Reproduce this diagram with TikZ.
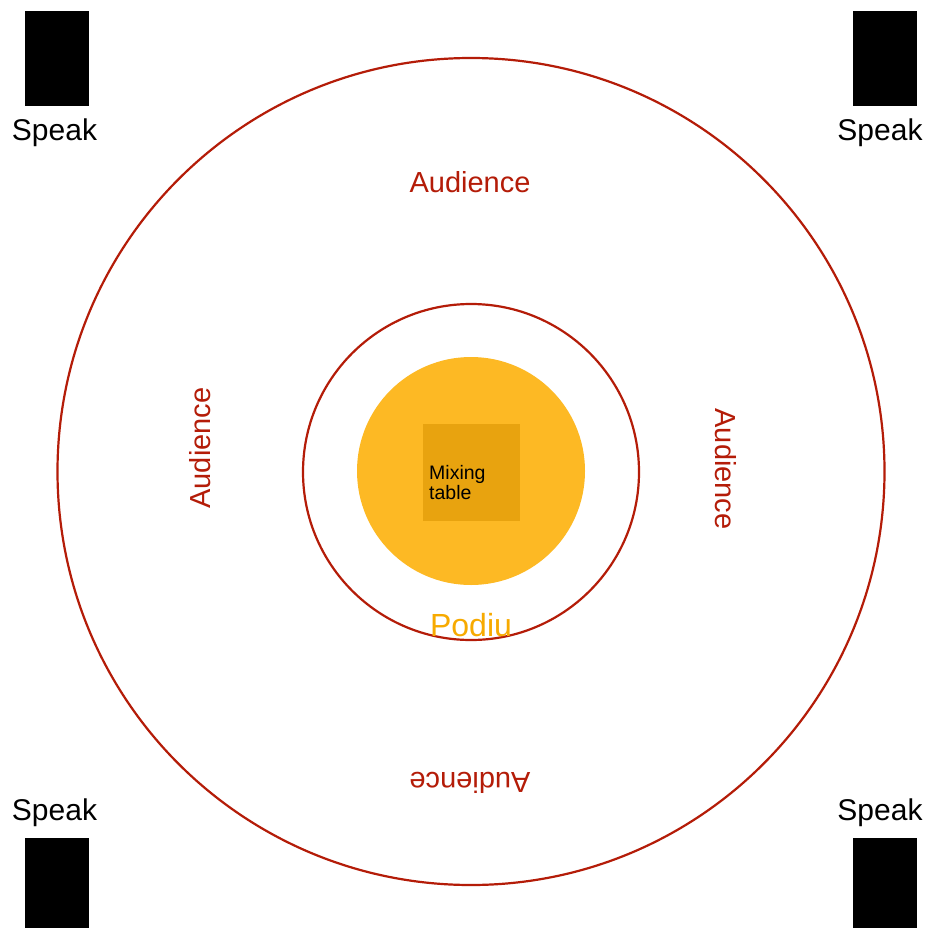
\documentclass[tikz,border=0pt]{standalone}
\usepackage{fontspec}
\setmainfont{Liberation Sans}
\definecolor{ringred}{RGB}{180,28,8}
\definecolor{podyellow}{RGB}{253,185,36}
\definecolor{mixbox}{RGB}{232,163,15}
\definecolor{podtext}{RGB}{247,170,0}
\begin{document}
\begin{tikzpicture}[x=1pt,y=-1pt,
  ring/.style={circle,draw=ringred,line width=2.2pt,inner sep=0pt},
  speaker/.style={fill=black,draw=none,inner sep=0pt,minimum width=64pt,minimum height=95pt},
  spklabel/.style={font=\fontsize{30}{32}\selectfont,inner sep=0pt,anchor=base},
  aud/.style={font=\fontsize{29}{31}\selectfont,text=ringred,inner sep=0pt}]
\useasboundingbox (0,0) rectangle (925,928);
\fill[white] (0,0) rectangle (925,928);
% rings
\node[ring,minimum size=827pt] (outer) at (471,471.5) {};
\node[ring,minimum size=336pt] (inner) at (471,472) {};
\node[circle,fill=podyellow,inner sep=0pt,minimum size=228pt] (podium) at (471,471) {};
\node[fill=mixbox,inner sep=0pt,minimum size=97pt] (mixer) at (471.5,472.5) {};
\node[font=\fontsize{19.5}{20}\selectfont,anchor=base west,align=left,inner sep=0pt] (mixtext) at (429,499) {Mixing\\table};
\node[font=\fontsize{32}{34}\selectfont,text=podtext,inner sep=0pt,anchor=base] (podlabel) at (471,636) {Podiu};
% audience labels
\node[aud,anchor=base] (audtop) at (470,193) {Audience};
\node[aud,rotate=90] (audleft) at (200,448) {Audience};
\node[aud,rotate=-90] (audright) at (726,469) {Audience};
\node[aud,rotate=180] (audbottom) at (470,783) {Audience};
% speakers
\node[speaker] (spkTL) at (57,58.5) {};
\node[speaker] (spkTR) at (885,58.5) {};
\node[speaker] (spkBL) at (57,885.5) {};
\node[speaker] (spkBR) at (885,885.5) {};
\node[spklabel] (lblTL) at (54.5,141) {Speak};
\node[spklabel] (lblTR) at (880,141) {Speak};
\node[spklabel] (lblBL) at (54.5,820) {Speak};
\node[spklabel] (lblBR) at (880,820) {Speak};
\end{tikzpicture}
\end{document}
